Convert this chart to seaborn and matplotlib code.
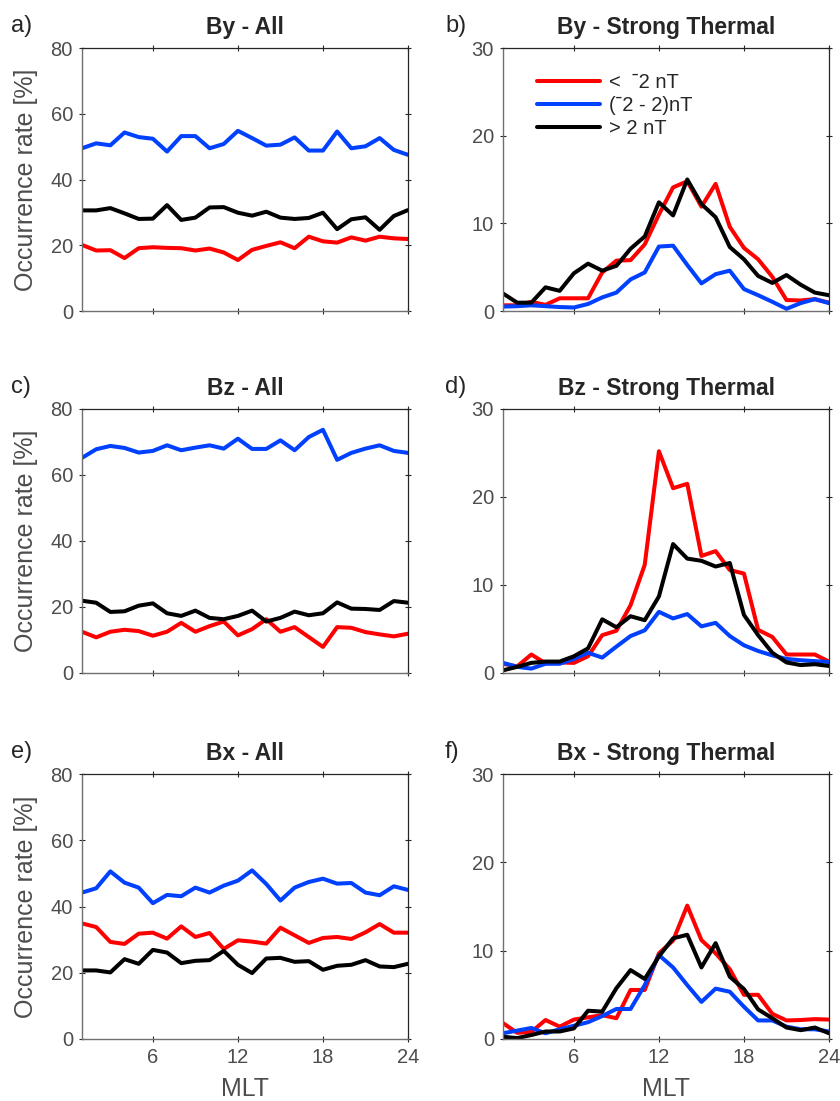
import numpy as np
import pandas as pd
import matplotlib
matplotlib.use("Agg")
import matplotlib.pyplot as plt
import seaborn as sns

mlt = list(range(1, 25))
series_names = ["<  \u02c92 nT", "(\u02c92 - 2)nT", "> 2 nT"]
palette = ["#ff0000", "#0040ff", "#000000"]

# By - All
by_all_neg = [20.1, 18.4, 18.5, 16.1, 19.1, 19.4, 19.2, 19.1, 18.4, 19.0, 17.8, 15.5,
              18.6, 19.8, 20.9, 19.1, 22.6, 21.2, 20.8, 22.4, 21.4, 22.6, 22.1, 21.9]
by_all_mid = [49.5, 51.0, 50.4, 54.3, 52.9, 52.4, 48.5, 53.2, 53.2, 49.5, 50.8, 54.8,
              52.6, 50.3, 50.6, 52.8, 48.8, 48.8, 54.6, 49.5, 50.1, 52.6, 49.0, 47.5]
by_all_pos = [30.6, 30.6, 31.3, 29.7, 28.0, 28.1, 32.2, 27.7, 28.4, 31.5, 31.6, 29.9,
              29.0, 30.2, 28.4, 28.0, 28.3, 29.9, 24.9, 27.9, 28.5, 24.7, 28.9, 30.7]
# By - Strong Thermal
by_st_neg = [0.65, 0.65, 1.05, 0.7, 1.45, 1.45, 1.45, 4.4, 5.75, 5.8, 7.6, 11.0,
             14.1, 14.8, 11.9, 14.5, 9.6, 7.2, 5.9, 3.9, 1.25, 1.2, 1.35, 0.95]
by_st_mid = [0.5, 0.55, 0.65, 0.55, 0.45, 0.4, 0.8, 1.55, 2.1, 3.6, 4.4, 7.35,
             7.45, 5.25, 3.15, 4.2, 4.6, 2.5, 1.8, 1.05, 0.25, 0.9, 1.35, 0.9]
by_st_pos = [2.0, 0.95, 0.95, 2.7, 2.3, 4.3, 5.4, 4.6, 5.15, 7.1, 8.5, 12.4,
             10.9, 15.0, 12.2, 10.7, 7.3, 5.9, 4.0, 3.2, 4.1, 3.0, 2.1, 1.8]
# Bz - All
bz_all_neg = [12.5, 10.8, 12.5, 13.1, 12.7, 11.3, 12.5, 15.2, 12.5, 14.2, 15.6, 11.4,
              13.3, 16.3, 12.5, 13.9, 10.9, 7.9, 13.9, 13.7, 12.4, 11.7, 11.1, 11.9]
bz_all_mid = [65.2, 67.8, 68.8, 68.2, 66.8, 67.3, 69.0, 67.5, 68.3, 69.0, 68.0, 71.0,
              67.9, 67.9, 70.5, 67.5, 71.5, 73.7, 64.6, 66.7, 68.0, 69.0, 67.3, 66.7]
bz_all_pos = [21.9, 21.3, 18.5, 18.7, 20.4, 21.1, 18.1, 17.3, 18.9, 16.7, 16.3, 17.3,
              18.9, 15.6, 16.7, 18.6, 17.5, 18.1, 21.4, 19.5, 19.4, 19.1, 21.8, 21.3]
# Bz - Strong Thermal
bz_st_neg = [1.05, 0.75, 2.1, 1.1, 1.2, 1.15, 1.9, 4.3, 4.8, 7.7, 12.3, 25.2,
             21.0, 21.5, 13.3, 13.85, 11.7, 11.3, 4.9, 4.1, 2.1, 2.1, 2.1, 1.3]
bz_st_mid = [1.15, 0.7, 0.5, 1.05, 1.05, 1.6, 2.3, 1.75, 3.0, 4.2, 4.85, 6.95,
             6.2, 6.7, 5.3, 5.7, 4.2, 3.15, 2.5, 2.0, 1.6, 1.45, 1.35, 1.25]
bz_st_pos = [0.3, 0.7, 1.15, 1.3, 1.3, 1.9, 2.8, 6.1, 5.2, 6.45, 6.0, 8.7,
             14.65, 13.0, 12.75, 12.1, 12.5, 6.6, 4.3, 2.3, 1.2, 0.9, 1.0, 0.8]
# Bx - All
bx_all_neg = [34.9, 33.8, 29.3, 28.7, 31.8, 32.1, 30.3, 34.0, 30.8, 32.0, 27.2, 29.8,
              29.4, 28.8, 33.6, 31.3, 29.0, 30.5, 30.8, 30.2, 32.2, 34.7, 32.1, 32.1]
bx_all_mid = [44.2, 45.5, 50.6, 47.2, 45.7, 41.0, 43.5, 43.1, 45.7, 44.2, 46.3, 47.8,
              50.9, 46.8, 41.8, 45.7, 47.4, 48.4, 46.9, 47.1, 44.2, 43.4, 46.1, 45.0]
bx_all_pos = [20.7, 20.7, 20.1, 24.1, 22.7, 26.9, 26.1, 22.9, 23.6, 23.8, 26.6, 22.4,
              19.9, 24.3, 24.5, 23.3, 23.5, 20.9, 22.1, 22.4, 23.8, 21.9, 21.7, 22.7]
# Bx - Strong Thermal
bx_st_neg = [1.8, 0.7, 0.8, 2.15, 1.4, 2.2, 2.45, 2.7, 2.35, 5.55, 5.55, 9.7,
             11.15, 15.1, 11.2, 9.7, 7.9, 5.0, 5.0, 2.85, 2.1, 2.15, 2.25, 2.2]
bx_st_mid = [0.65, 0.95, 1.25, 0.65, 1.1, 1.5, 1.9, 2.6, 3.4, 3.4, 6.1, 9.5,
             8.1, 6.1, 4.2, 5.7, 5.35, 3.65, 2.1, 2.1, 1.4, 1.1, 1.1, 0.85]
bx_st_pos = [0.25, 0.1, 0.45, 0.85, 0.85, 1.2, 3.2, 3.1, 5.75, 7.8, 6.8, 9.35,
             11.4, 11.8, 8.1, 10.85, 7.05, 5.65, 3.35, 2.35, 1.3, 1.0, 1.3, 0.65]

titles = ["By - All", "By - Strong Thermal", "Bz - All", "Bz - Strong Thermal",
          "Bx - All", "Bx - Strong Thermal"]
panel_labels = ["a)", "b)", "c)", "d)", "e)", "f)"]
panel_data = [
    (by_all_neg, by_all_mid, by_all_pos),
    (by_st_neg, by_st_mid, by_st_pos),
    (bz_all_neg, bz_all_mid, bz_all_pos),
    (bz_st_neg, bz_st_mid, bz_st_pos),
    (bx_all_neg, bx_all_mid, bx_all_pos),
    (bx_st_neg, bx_st_mid, bx_st_pos),
]
x_ticks = [6, 12, 18, 24]
y_ticks_all = [0, 20, 40, 60, 80]
y_ticks_st = [0, 10, 20, 30]

sns.set_theme(style="white")
plt.rcParams["font.family"] = ["Liberation Sans", "DejaVu Sans"]

W, H = 840, 1101
fig = plt.figure(figsize=(W / 100, H / 100), dpi=100)

lefts = [82, 503]
label_x = [11, 445]
rows = [(48, 311), (409, 673), (774, 1039)]
width_px = 326

tick_col = "#4d4d4d"
for i, (title, lab, vals) in enumerate(zip(titles, panel_labels, panel_data)):
    r, c = divmod(i, 2)
    top, bot = rows[r]
    ax = fig.add_axes([lefts[c] / W, 1 - bot / H, width_px / W, (bot - top) / H])
    df = pd.DataFrame({
        "MLT": mlt * 3,
        "rate": list(vals[0]) + list(vals[1]) + list(vals[2]),
        "group": [series_names[0]] * 24 + [series_names[1]] * 24 + [series_names[2]] * 24,
    })
    sns.lineplot(data=df, x="MLT", y="rate", hue="group", hue_order=series_names,
                 palette=palette, linewidth=2.9, ax=ax, legend=(i == 1))
    ax.set_xlim(1, 24)
    if c == 0:
        ax.set_ylim(0, 80)
        ax.set_yticks(y_ticks_all)
        ax.set_ylabel("Occurrence rate [%]", fontsize=18, color=tick_col, labelpad=9)
    else:
        ax.set_ylim(0, 30)
        ax.set_yticks(y_ticks_st)
        ax.set_ylabel("")
    ax.set_xticks(x_ticks)
    if r == 2:
        ax.set_xlabel("MLT", fontsize=18, color=tick_col, labelpad=7)
        ax.tick_params(axis="x", labelbottom=True)
    else:
        ax.set_xlabel("")
        ax.tick_params(axis="x", labelbottom=False)
    ax.tick_params(axis="both", which="both", direction="inout", length=5, width=0.8,
                   colors="#262626", labelcolor=tick_col, labelsize=14.5,
                   top=True, right=True, bottom=True, left=True, pad=4)
    for side in ["left", "bottom"]:
        ax.spines[side].set_color("#707070")
        ax.spines[side].set_linewidth(1.0)
    for side in ["top", "right"]:
        ax.spines[side].set_color("#262626")
        ax.spines[side].set_linewidth(0.9)
    ax.set_title(title, fontsize=16.5, fontweight="bold", color="#262626", pad=10)
    fig.text(label_x[c] / W, 1 - (top - 22) / H, lab, fontsize=17,
             color="#262626", va="center", ha="left")
    if i == 1:
        leg = ax.legend(loc="upper left", frameon=False, fontsize=14.5,
                        bbox_to_anchor=(0.05, 0.975), handlelength=3.1,
                        labelspacing=0.2, handletextpad=0.45)
        for line in leg.get_lines():
            line.set_linewidth(2.9)
        for t in leg.get_texts():
            t.set_color("#262626")

fig.savefig("out.png", dpi=100)
